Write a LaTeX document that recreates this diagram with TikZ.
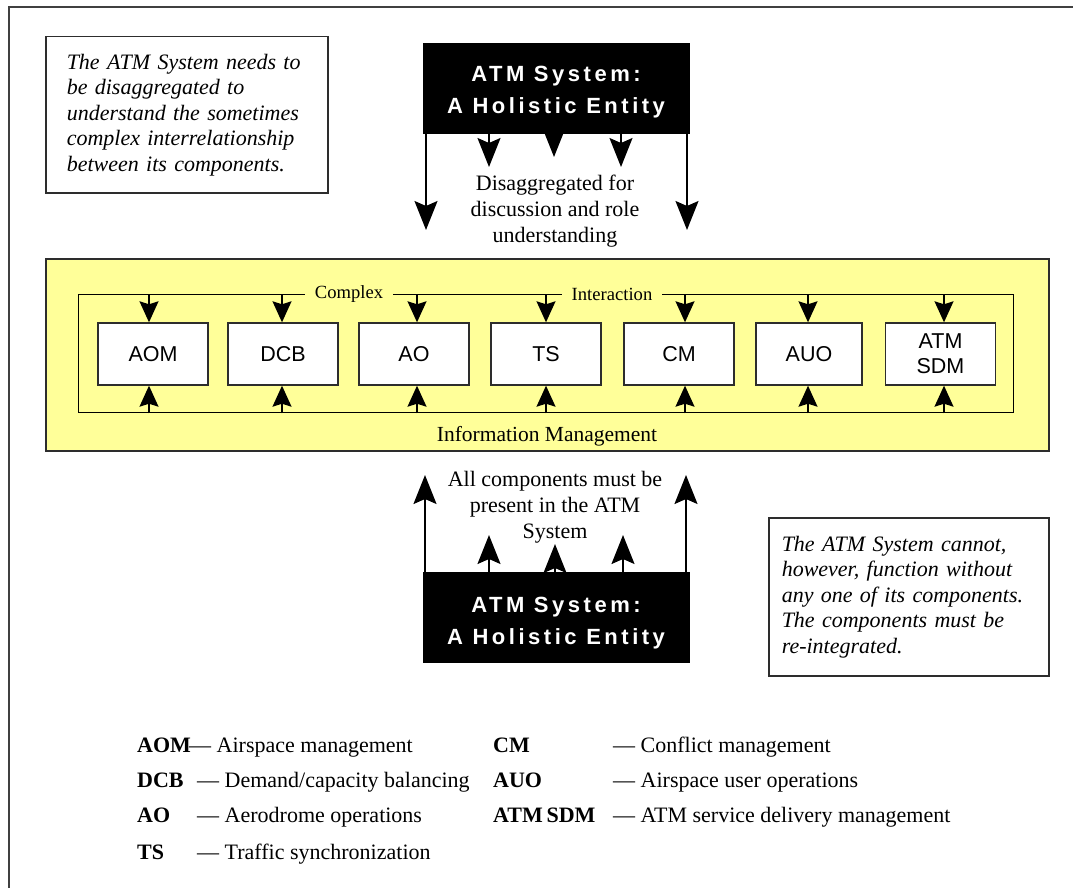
\documentclass[tikz,border=0pt]{standalone}
\usepackage{fontspec}
\setmainfont{Liberation Serif}
\newfontfamily\compfont{Liberation Sans}
\newfontfamily\holfont[LetterSpace=16]{Liberation Sans}
\usetikzlibrary{arrows.meta}
\definecolor{bandyellow}{RGB}{255,255,153}
\definecolor{edgegray}{RGB}{45,45,45}
\tikzset{
  frameline/.style={line width=2.5pt, draw=black!75},
  notebox/.style={draw=edgegray, line width=1.5pt, fill=white, align=left, inner ysep=0pt,
    font=\fontsize{22}{25.5}\selectfont\itshape},
  blackbox/.style={fill=black, draw=black, inner sep=0pt},
  holtext/.style={text=white, align=center, inner sep=0pt,
    font=\fontsize{22}{32}\selectfont\holfont\bfseries},
  bigarrow/.style={line width=1.6pt, -{Stealth[length=29pt,width=23pt,inset=5pt]}},
  smallarrow/.style={line width=1.4pt, -{Stealth[length=21pt,width=19pt,inset=3pt]}},
  bodytext/.style={align=center, inner sep=0pt, font=\fontsize{22}{26}\selectfont},
  bandbox/.style={fill=bandyellow, draw=edgegray, line width=1.5pt, inner sep=0pt},
  innerframe/.style={draw=black, line width=1.4pt, inner sep=0pt},
  framelabel/.style={fill=bandyellow, inner xsep=10pt, inner ysep=2pt, font=\fontsize{18.6}{20}\selectfont},
  comp/.style={draw=edgegray, fill=white, line width=1.4pt, minimum width=110pt, minimum height=62pt,
    align=center, inner sep=0pt, font=\fontsize{21.5}{25}\selectfont\compfont},
  legabbr/.style={anchor=base west, inner sep=0pt, font=\fontsize{22}{26}\selectfont\bfseries},
  legdesc/.style={anchor=base west, inner sep=0pt, font=\fontsize{22}{26}\selectfont},
}
\begin{document}
\begin{tikzpicture}[x=1pt,y=-1pt]
\useasboundingbox (0,0) rectangle (1073,888);
% outer frame (only top and left edges visible)
\coordinate (frTR) at (1073,7);
\coordinate (frTL) at (9,7);
\coordinate (frBL) at (9,888);
\draw[frameline] (frTR) -- (frTL) -- (frBL);

% notes
\node[notebox, anchor=north west, minimum width=282pt, minimum height=156pt,
      text width=240pt, inner xsep=21pt] (note1) at (45,36)
  {The ATM System needs to\\be disaggregated to\\understand the sometimes\\complex interrelationship\\between its components.};
\node[notebox, anchor=north west, minimum width=280pt, minimum height=158pt,
      text width=254pt, inner xsep=13pt] (note2) at (768,517)
  {The ATM System cannot,\\however, function without\\any one of its components.\\The components must be\\re-integrated.};

% top system box
\node[blackbox, minimum width=266pt, minimum height=90pt] (sysTop) at (556,88) {};
\node[holtext] (sysTopText) at ([yshift=-4.5pt]sysTop.center) {ATM System:\\A Holistic Entity};
\coordinate (tA) at (426,230);
\coordinate (tB) at (489,167);
\coordinate (tC) at (554,157);
\coordinate (tD) at (621,167);
\coordinate (tE) at (687,230);
\foreach \c in {tA,tB,tC,tD,tE} \draw[bigarrow] (sysTop.south -| \c) -- (\c);
\node[bodytext] (disagg) at (555,211) {Disaggregated for\\discussion and role\\understanding};

% yellow band
\node[bandbox, anchor=north west, minimum width=1003pt, minimum height=192pt] (band) at (45,258) {};
\node[innerframe, anchor=north west, minimum width=935pt, minimum height=118pt] (frame) at (78,294) {};
\node[framelabel] (complex) at (349,294) {Complex};
\node[framelabel] (interaction) at (612,294) {Interaction};
\node[bodytext, font=\fontsize{21.5}{25}\selectfont] (infoman) at (547,436) {Information Management};

\node[comp] (aom) at (153,354) {AOM};
\node[comp] (dcb) at (283,354) {DCB};
\node[comp] (ao)  at (414,354) {AO};
\node[comp] (ts)  at (546,354) {TS};
\node[comp] (cm)  at (679,354) {CM};
\node[comp, minimum width=106pt] (auo) at (809,354) {AUO};
\node[comp] (sdm) at (940.5,354) {ATM\\SDM};

\foreach \n/\x in {aom/149,dcb/282,ao/417,ts/546,cm/685,auo/808,sdm/944} {
  \coordinate (x\n) at (\x,0);
  \draw[smallarrow] (frame.north -| x\n) -- (\n.north -| x\n);
  \draw[smallarrow] (frame.south -| x\n) -- (\n.south -| x\n);
}

% bottom system box
\node[blackbox, minimum width=266pt, minimum height=90pt] (sysBot) at (556,617) {};
\node[holtext] (sysBotText) at ([yshift=-6pt]sysBot.center) {ATM System:\\A Holistic Entity};
\coordinate (bA) at (425,475);
\coordinate (bB) at (489,535);
\coordinate (bC) at (555,544);
\coordinate (bD) at (623,535);
\coordinate (bE) at (686,475);
\foreach \c in {bA,bB,bC,bD,bE} \draw[bigarrow] (sysBot.north -| \c) -- (\c);
\node[bodytext] (allcomp) at (555,507) {All components must be\\present in the ATM\\System};

% legend
\node[legabbr] (lAOM) at (137,752) {AOM};
\node[legabbr] (lDCB) at (137,787) {DCB};
\node[legabbr] (lAO)  at (137,822) {AO};
\node[legabbr] (lTS)  at (137,859) {TS};
\node[legdesc] (dAOM) at (189,752) {— Airspace management};
\node[legdesc] (dDCB) at (197,787) {— Demand/capacity balancing};
\node[legdesc] (dAO)  at (197,822) {— Aerodrome operations};
\node[legdesc] (dTS)  at (197,859) {— Traffic synchronization};
\node[legabbr] (lCM)  at (493,752) {CM};
\node[legabbr] (lAUO) at (493,787) {AUO};
\node[legabbr] (lSDM) at (493,822) {ATM\,SDM};
\node[legdesc] (dCM)  at (613,752) {— Conflict management};
\node[legdesc] (dAUO) at (613,787) {— Airspace user operations};
\node[legdesc] (dSDM) at (613,822) {— ATM service delivery management};
\end{tikzpicture}
\end{document}
